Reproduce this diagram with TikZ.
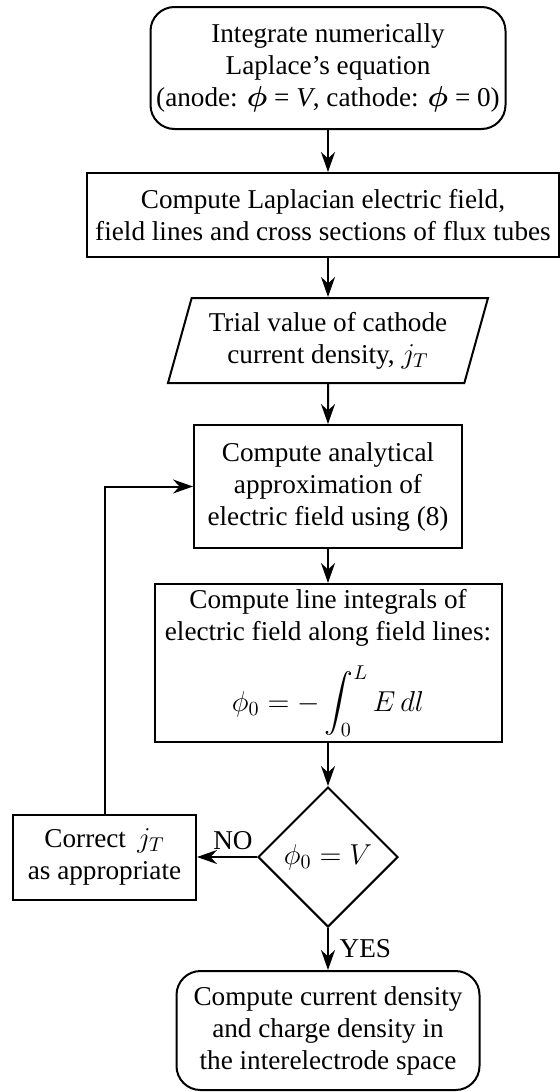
\documentclass[tikz,border=0pt]{standalone}
\usepackage{amsmath}
\usepackage{fontspec}
\setmainfont{Liberation Serif}
\usetikzlibrary{arrows.meta,shapes.geometric}

\begin{document}
\begin{tikzpicture}[x=1pt,y=-1pt,line width=1pt,>={Stealth[length=10pt,width=7pt]},
		font=\fontsize{13.6}{16}\selectfont,
		box/.style={draw,rectangle,align=center,inner sep=2pt},
		term/.style={box,rounded corners=12pt},
		io/.style={draw,trapezium,trapezium left angle=70,trapezium right angle=110,trapezium stretches body,align=center,inner sep=2pt},
		test/.style={draw,diamond,aspect=1,inner sep=0pt,minimum width=70pt,minimum height=70pt}]
	\useasboundingbox (0,0) rectangle (280,546);
	% main column
	\node[term,minimum width=177.5pt,minimum height=61pt] (init) at (164,34) {Integrate numerically\\ Laplace's equation\\ (anode: $\boldsymbol{\phi}$ = \textit{V}, cathode: $\boldsymbol{\phi}$ = 0)};
	\node[box,minimum width=236pt,minimum height=42pt] (fieldlines) at (161.5,107.5) {Compute Laplacian electric field,\\ field lines and cross sections of flux tubes};
	\node[io,minimum width=160pt,minimum height=42.5pt] (trial) at (164,170.25) {Trial value of cathode\\ current density, $j_T$};
	\node[box,minimum width=134pt,minimum height=61.5pt] (analytic) at (164,243.25) {Compute analytical\\ approximation of\\ electric field using (8)};
	\node[box,minimum width=173.5pt,minimum height=79pt] (lineint) at (164,331.5) {Compute line integrals of\\ electric field along field lines:\\[9pt] $\displaystyle\phi_0=-\int_0^L E\,dl$};
	\node[test] (check) at (164,428.5) {$\phi_0=V$};
	\node[term,minimum width=151.5pt,minimum height=59.5pt] (result) at (164,515.25) {Compute current density\\ and charge density in\\ the interelectrode space};
	% loop back
	\node[box,minimum width=91.5pt,minimum height=42.5pt] (correct) at (52.25,428.5) {Correct \,$j_T$\\ as appropriate};

	\draw[->] (init.south) -- (init.south |- fieldlines.north);
	\draw[->] (trial.north |- fieldlines.south) -- (trial.north);
	\draw[->] (trial) -- (analytic);
	\draw[->] (analytic) -- (lineint);
	\draw[->] (lineint) -- (check);
	\draw[->] (check) -- node[above,pos=0.4]{NO} (correct);
	\draw[->] (check) -- node[right,xshift=2pt]{YES} (result);
	\draw[->] (correct.north) |- (analytic.west);
\end{tikzpicture}
\end{document}
